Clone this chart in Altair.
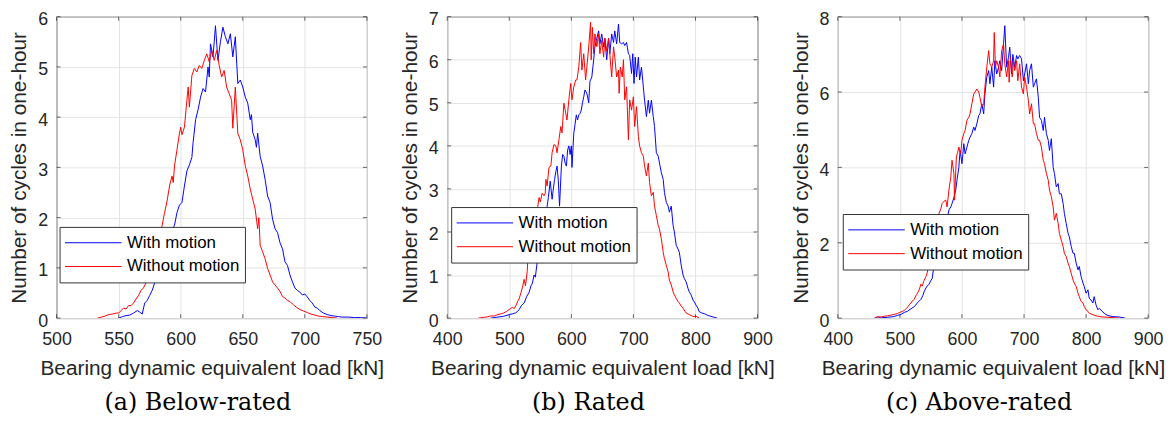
import altair as alt
import pandas as pd

SERIES = ["With motion", "Without motion"]
COLORS = ["#0000ff", "#ff0000"]

# ---------------- (a) Below-rated ----------------
a_with_x = [550, 553, 556, 559, 562, 565, 567, 569, 571, 573, 575, 577, 579, 581, 583, 585, 587, 589, 591, 593,
            595, 597, 599, 601, 603, 605, 607, 609, 610, 612, 614, 616, 618, 620, 622, 623, 624, 626, 627, 628,
            630, 632, 634, 636, 638, 640, 642, 644, 646, 648, 650, 652, 654, 656, 657, 658, 660, 661, 662, 664,
            666, 668, 670, 672, 674, 676, 678, 680, 682, 684, 686, 688, 690, 692, 694, 696, 698, 700, 702, 704,
            706, 708, 710, 712, 715, 718, 721, 724, 727, 730, 735, 740, 745, 750]
a_with_y = [0.0, 0.03, 0.05, 0.06, 0.1, 0.15, 0.12, 0.08, 0.3, 0.35, 0.45, 0.55, 0.7, 0.8, 1.0, 1.15, 1.35, 1.5, 1.6, 1.75,
            1.85, 2.1, 2.25, 2.3, 2.63, 2.93, 3.05, 3.2, 3.5, 3.95, 4.15, 4.4, 4.57, 4.5, 5.0, 4.8, 5.46, 5.2, 5.5, 5.82,
            5.13, 5.5, 5.79, 5.6, 5.46, 5.66, 5.2, 5.6, 4.67, 4.74, 4.6, 4.4, 4.28, 3.95, 4.05, 3.7, 3.55, 3.4, 3.68, 3.22,
            3.03, 2.76, 2.43, 2.3, 1.97, 1.78, 1.7, 1.5, 1.38, 1.12, 1.05, 0.86, 0.72, 0.6, 0.55, 0.52, 0.46, 0.48, 0.42, 0.35,
            0.3, 0.22, 0.2, 0.15, 0.1, 0.07, 0.05, 0.04, 0.03, 0.02, 0.02, 0.01, 0.01, 0.0]
a_without_x = [533, 536, 539, 542, 545, 548, 550, 552, 554, 556, 558, 560, 562, 564, 566, 568, 570, 572, 574, 576,
               578, 580, 582, 584, 585, 587, 589, 591, 593, 594, 595, 597, 599, 600, 601, 603, 605, 606, 607, 609,
               611, 613, 615, 617, 619, 621, 623, 625, 627, 629, 631, 633, 635, 637, 639, 641, 642, 644, 646, 648,
               650, 652, 654, 656, 658, 660, 662, 663, 664, 666, 668, 670, 672, 674, 676, 678, 680, 682, 684, 686,
               688, 690, 693, 696, 699, 702, 705, 708, 711, 714, 718, 722, 726]
a_without_y = [0.0, 0.02, 0.04, 0.07, 0.08, 0.1, 0.1, 0.15, 0.2, 0.18, 0.25, 0.25, 0.3, 0.38, 0.45, 0.55, 0.6, 0.7, 0.8, 0.95,
               1.05, 1.3, 1.5, 1.75, 1.84, 2.1, 2.33, 2.63, 2.83, 2.7, 3.03, 3.35, 3.68, 3.8, 3.65, 3.8, 4.34, 4.6, 4.2, 4.83,
               4.97, 4.9, 5.03, 4.97, 5.13, 5.26, 5.1, 5.33, 5.13, 5.33, 5.03, 4.8, 4.93, 4.6, 4.47, 4.34, 3.78, 4.6, 3.68, 3.55,
               3.35, 3.03, 2.83, 2.57, 2.37, 2.17, 1.78, 2.0, 1.45, 1.32, 1.18, 0.99, 0.86, 0.72, 0.66, 0.6, 0.53, 0.43, 0.4, 0.35,
               0.33, 0.28, 0.22, 0.17, 0.14, 0.11, 0.08, 0.06, 0.04, 0.03, 0.02, 0.01, 0.0]

# ---------------- (b) Rated ----------------
b_with_x = [470, 480, 490, 500, 505, 510, 513, 516, 520, 524, 528, 532, 535, 537, 540, 542, 545, 548, 550, 553,
            555, 558, 560, 563, 566, 569, 571, 573, 575, 577, 579, 581, 584, 586, 588, 590, 592, 594, 596, 598,
            600, 601, 604, 606, 608, 610, 612, 614, 616, 618, 620, 622, 625, 628, 630, 633, 636, 638, 641, 644,
            646, 649, 652, 654, 657, 660, 662, 665, 668, 670, 673, 676, 678, 681, 684, 686, 689, 692, 694, 697,
            699, 701, 703, 705, 708, 710, 713, 716, 718, 721, 724, 726, 729, 732, 734, 737, 740, 742, 745, 748,
            750, 753, 756, 758, 761, 764, 766, 769, 772, 774, 777, 780, 782, 785, 788, 790, 793, 796, 798, 801,
            804, 806, 810, 815, 820, 825, 830, 835]
b_with_y = [0.0, 0.02, 0.04, 0.08, 0.1, 0.12, 0.15, 0.2, 0.3, 0.35, 0.5, 0.6, 0.75, 0.8, 1.0, 0.95, 1.3, 1.45, 1.7, 1.9,
            2.1, 2.3, 2.5, 2.8, 3.18, 2.76, 3.0, 3.22, 3.4, 3.53, 3.2, 2.6, 3.53, 3.8, 3.76, 3.6, 3.53, 3.9, 4.0, 3.8,
            4.0, 3.5, 4.3, 4.5, 4.72, 4.6, 4.72, 4.75, 4.83, 5.0, 5.14, 5.3, 5.22, 5.0, 5.5, 5.6, 6.0, 6.3, 6.5, 6.67,
            6.37, 6.6, 6.3, 6.5, 6.0, 6.5, 6.14, 6.6, 6.4, 6.67, 6.37, 6.83, 6.4, 6.37, 6.4, 6.33, 6.4, 6.14, 6.1, 5.68,
            6.14, 5.45, 6.06, 5.6, 6.06, 5.53, 5.83, 5.37, 5.06, 4.68, 5.06, 4.76, 5.06, 4.68, 4.45, 3.84, 3.76, 3.6, 3.38, 3.22,
            2.92, 2.69, 2.6, 2.46, 2.6, 2.15, 2.0, 1.69, 1.6, 1.53, 1.23, 1.0, 0.92, 0.84, 0.69, 0.61, 0.54, 0.42, 0.38, 0.3,
            0.23, 0.15, 0.12, 0.1, 0.06, 0.04, 0.02, 0.0]
b_without_x = [450, 460, 465, 470, 476, 481, 487, 491, 495, 500, 505, 508, 511, 514, 516, 519, 521, 524, 526, 527,
               529, 530, 532, 534, 536, 538, 540, 543, 546, 548, 550, 553, 556, 558, 559, 561, 564, 567, 569, 572,
               575, 577, 580, 583, 585, 588, 591, 593, 596, 599, 601, 604, 607, 609, 612, 615, 617, 620, 623, 625,
               628, 631, 632, 634, 636, 638, 641, 644, 646, 649, 652, 654, 657, 660, 662, 665, 668, 670, 673, 676,
               677, 679, 682, 684, 686, 689, 692, 694, 697, 700, 702, 705, 708, 710, 713, 716, 718, 721, 724, 726,
               729, 732, 734, 737, 740, 742, 745, 748, 750, 753, 756, 758, 761, 764, 766, 769, 772, 774, 777, 780,
               783, 785, 790, 796, 801, 806]
b_without_y = [0.0, 0.02, 0.03, 0.05, 0.05, 0.08, 0.1, 0.12, 0.15, 0.2, 0.25, 0.22, 0.3, 0.4, 0.45, 0.6, 0.7, 0.9, 0.75, 0.85,
               1.1, 1.38, 1.3, 1.5, 1.7, 1.9, 2.1, 2.3, 2.6, 2.8, 2.7, 2.9, 2.84, 2.9, 3.22, 3.07, 3.5, 3.53, 3.84, 4.03,
               4.0, 3.84, 4.14, 4.45, 4.3, 4.99, 4.76, 4.6, 5.07, 5.45, 5.07, 5.37, 5.53, 5.53, 5.83, 6.4, 5.76, 6.14, 5.53, 5.83,
               6.3, 6.87, 6.0, 6.75, 6.14, 6.6, 6.3, 6.6, 6.14, 6.45, 6.06, 6.5, 6.2, 6.5, 6.14, 5.6, 6.3, 6.06, 5.6, 5.76,
               5.22, 5.83, 5.6, 6.0, 5.07, 5.37, 4.14, 5.07, 4.83, 5.14, 4.45, 4.91, 4.22, 4.0, 3.84, 3.76, 3.53, 3.3, 3.6, 3.15,
               2.84, 2.92, 2.6, 2.38, 2.15, 2.07, 1.84, 1.53, 1.38, 1.23, 1.07, 0.88, 0.77, 0.61, 0.54, 0.46, 0.38, 0.35, 0.28, 0.23,
               0.16, 0.12, 0.08, 0.04, 0.04, 0.0]

# ---------------- (c) Above-rated ----------------
c_with_x = [459, 470, 480, 490, 496, 502, 507, 512, 518, 523, 528, 531, 534, 537, 539, 542, 544, 547, 550, 552,
            555, 560, 565, 570, 575, 577, 579, 582, 584, 587, 590, 592, 595, 597, 600, 603, 605, 608, 611, 613,
            616, 619, 621, 624, 627, 629, 632, 635, 637, 640, 643, 645, 648, 651, 653, 656, 659, 661, 664, 667,
            669, 672, 675, 677, 680, 682, 685, 688, 690, 693, 696, 699, 701, 704, 707, 709, 712, 715, 717, 720,
            723, 725, 728, 731, 733, 736, 739, 741, 744, 747, 749, 752, 755, 757, 760, 763, 765, 768, 771, 773,
            776, 779, 781, 784, 787, 789, 792, 795, 797, 800, 803, 805, 808, 811, 813, 816, 819, 821, 826, 832,
            837, 843, 853, 863]
c_with_y = [0.0, 0.01, 0.02, 0.04, 0.07, 0.1, 0.15, 0.18, 0.25, 0.3, 0.4, 0.45, 0.5, 0.6, 0.7, 0.8, 0.85, 0.9, 1.0, 1.05,
            1.4, 1.7, 2.0, 2.3, 2.6, 2.7, 2.87, 2.95, 3.04, 3.2, 3.4, 3.66, 4.0, 4.45, 4.1, 4.63, 4.36, 4.54, 4.72, 4.8,
            4.9, 5.07, 4.98, 5.16, 5.38, 5.42, 5.69, 5.42, 5.95, 6.4, 6.57, 6.22, 6.66, 6.13, 6.83, 6.48, 6.66, 6.83, 6.57, 7.28,
            7.76, 6.66, 6.92, 7.19, 6.48, 7.0, 6.66, 6.97, 6.88, 6.97, 6.88, 6.3, 6.48, 6.75, 6.22, 6.57, 6.75, 6.13, 6.22, 6.35,
            5.86, 5.33, 5.25, 4.98, 5.33, 4.9, 4.72, 4.45, 4.76, 4.0, 3.84, 3.48, 3.57, 3.3, 3.3, 3.04, 2.78, 2.51, 2.25, 2.16,
            1.9, 1.72, 1.72, 1.46, 1.28, 1.37, 1.1, 0.93, 0.84, 0.66, 0.75, 0.53, 0.48, 0.4, 0.57, 0.35, 0.22, 0.26, 0.18, 0.09,
            0.06, 0.04, 0.03, 0.0]
c_without_x = [459, 464, 470, 475, 480, 486, 491, 496, 500, 504, 507, 510, 513, 515, 518, 520, 523, 526, 528, 531,
               534, 536, 539, 542, 544, 546, 548, 553, 558, 561, 563, 566, 568, 571, 574, 576, 579, 582, 584, 587,
               588, 591, 593, 595, 598, 600, 603, 605, 608, 611, 613, 616, 619, 621, 624, 627, 629, 632, 635, 637,
               640, 643, 645, 648, 651, 652, 654, 656, 659, 661, 664, 667, 669, 672, 675, 676, 678, 681, 683, 685,
               688, 690, 693, 696, 699, 701, 704, 707, 709, 712, 715, 717, 720, 723, 725, 728, 731, 733, 736, 739,
               741, 744, 747, 749, 752, 755, 757, 760, 763, 765, 768, 771, 773, 776, 779, 781, 784, 787, 789, 792,
               795, 797, 800, 803, 805, 811, 816, 826, 837, 853]
c_without_y = [0.0, 0.04, 0.03, 0.05, 0.06, 0.08, 0.1, 0.12, 0.15, 0.18, 0.2, 0.25, 0.3, 0.35, 0.4, 0.45, 0.5, 0.6, 0.65, 0.75,
               0.9, 0.85, 1.0, 1.1, 1.2, 1.37, 1.5, 1.9, 2.3, 2.6, 2.78, 2.9, 3.04, 3.1, 3.13, 2.95, 3.4, 3.75, 4.19, 3.84,
               3.13, 4.28, 4.4, 4.54, 4.36, 4.72, 4.9, 4.98, 5.25, 5.33, 5.42, 5.69, 5.95, 6.0, 6.08, 6.0, 5.86, 5.6, 5.69, 6.13,
               6.66, 7.1, 6.75, 6.66, 6.83, 7.58, 6.66, 6.83, 6.66, 6.4, 7.1, 7.28, 6.75, 6.4, 6.83, 6.26, 6.92, 6.4, 6.83, 6.57,
               6.83, 6.3, 6.75, 6.13, 5.95, 6.4, 6.13, 5.78, 5.42, 5.69, 5.16, 5.16, 4.9, 4.72, 4.72, 4.54, 4.19, 4.1, 3.84, 3.66,
               3.4, 3.22, 2.95, 2.6, 2.78, 2.51, 2.25, 2.07, 1.9, 1.72, 1.63, 1.46, 1.37, 1.19, 1.01, 0.93, 0.84, 0.66, 0.57, 0.44,
               0.4, 0.31, 0.22, 0.18, 0.13, 0.09, 0.06, 0.03, 0.02, 0.0]

a_xticks = [500, 550, 600, 650, 700, 750]
a_yticks = [0, 1, 2, 3, 4, 5, 6]
bc_xticks = [400, 500, 600, 700, 800, 900]
b_yticks = [0, 1, 2, 3, 4, 5, 6, 7]
c_yticks = [0, 2, 4, 6, 8]

captions = ["(a) Below-rated", "(b) Rated", "(c) Above-rated"]
X_TITLE = "Bearing dynamic equivalent load [kN]"
Y_TITLE = "Number of cycles in one-hour"

SANS = "Liberation Sans"
DARK = "#262626"
W, H = 313, 304


def panel(wx, wy, ox, oy, xticks, yticks, caption, lx, ly):
    df = pd.concat([
        pd.DataFrame({"load": wx, "cycles": wy, "series": SERIES[0]}),
        pd.DataFrame({"load": ox, "cycles": oy, "series": SERIES[1]}),
    ], ignore_index=True)
    xdom = [xticks[0], xticks[-1]]
    ydom = [yticks[0], yticks[-1]]
    xenc = alt.X("load:Q", scale=alt.Scale(domain=xdom, nice=False, zero=False),
                 axis=alt.Axis(values=xticks, title=X_TITLE, format="d"))
    yenc = alt.Y("cycles:Q", scale=alt.Scale(domain=ydom, nice=False),
                 axis=alt.Axis(values=yticks, title=Y_TITLE, format="d"))
    lines = alt.Chart(df).mark_line(strokeWidth=1, clip=True).encode(
        x=xenc, y=yenc,
        color=alt.Color("series:N", scale=alt.Scale(domain=SERIES, range=COLORS),
                        legend=alt.Legend(orient="none", legendX=lx, legendY=ly, title=None,
                                          symbolType="stroke", symbolSize=3249, symbolStrokeWidth=1,
                                          clipHeight=22, rowPadding=2, padding=5, labelOffset=5,
                                          labelFont=SANS, labelFontSize=17, labelColor="black",
                                          strokeColor="#333333", fillColor="white", labelLimit=0)),
    )
    bt = pd.DataFrame({"load": xticks, "cycles": ydom[0]})
    tt = pd.DataFrame({"load": xticks, "cycles": ydom[1]})
    lt = pd.DataFrame({"load": xdom[0], "cycles": yticks})
    rt = pd.DataFrame({"load": xdom[1], "cycles": yticks})
    tk = dict(color=DARK, thickness=1, size=4)
    bticks = alt.Chart(bt).mark_tick(orient="vertical", yOffset=-2, **tk).encode(x="load:Q", y="cycles:Q")
    tticks = alt.Chart(tt).mark_tick(orient="vertical", yOffset=2, **tk).encode(x="load:Q", y="cycles:Q")
    lticks = alt.Chart(lt).mark_tick(orient="horizontal", xOffset=2, **tk).encode(x="load:Q", y="cycles:Q")
    rticks = alt.Chart(rt).mark_tick(orient="horizontal", xOffset=-2, **tk).encode(x="load:Q", y="cycles:Q")
    return alt.layer(lines, bticks, tticks, lticks, rticks).properties(
        width=W, height=H,
        title=alt.TitleParams(caption, orient="bottom", anchor="middle", font="DejaVu Serif",
                              fontSize=24, fontWeight="normal", color="black", dx=-14, offset=13),
    )


pa = panel(a_with_x, a_with_y, a_without_x, a_without_y, a_xticks, a_yticks, captions[0], 3, 212)
pb = panel(b_with_x, b_with_y, b_without_x, b_without_y, bc_xticks, b_yticks, captions[1], 4, 192)
pc = panel(c_with_x, c_with_y, c_without_x, c_without_y, bc_xticks, c_yticks, captions[2], 5, 199)

chart = alt.hconcat(pa, pb, pc, spacing=81, bounds="flush").resolve_scale(
    color="independent").resolve_legend(color="independent").properties(
    padding={"left": 0, "top": 0, "right": 0, "bottom": 0}
).configure(background="white").configure_view(
    stroke=DARK, strokeWidth=1
).configure_axis(
    labelFont=SANS, labelFontSize=18, labelColor=DARK, ticks=False, domain=False,
    labelFlush=False, labelOverlap=False,
    grid=True, gridColor="#e4e4e4", gridWidth=1,
    titleFont=SANS, titleFontSize=21, titleFontWeight="normal", titleColor=DARK,
).configure_axisX(labelPadding=13, titlePadding=9).configure_axisY(
    labelPadding=9, labelOffset=3, titlePadding=8
)

chart.save("out.html", embed_options={"renderer": "svg", "actions": False})
